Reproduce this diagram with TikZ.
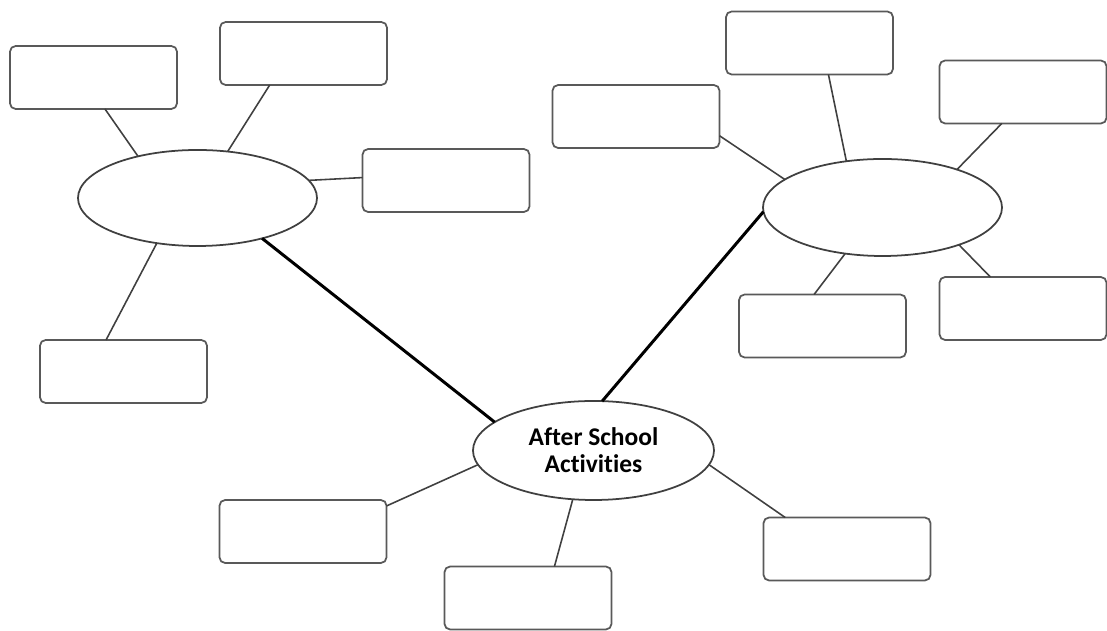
\documentclass[tikz,border=0pt]{standalone}
\usepackage{fontspec}
\setsansfont{Carlito}[Ligatures=NoCommon]
\usetikzlibrary{shapes.geometric}

\begin{document}
\begin{tikzpicture}[thick,
                    leaf box/.style={rectangle,rounded corners=3.2pt,draw=black!65,line width=1pt,
                                     minimum width=3.34cm,minimum height=1.26cm,outer sep=0pt},
                    hub/.style={ellipse,draw=black!75,line width=1pt,inner sep=0pt,outer sep=0pt,
                                align=center,font=\sffamily\bfseries\fontsize{14.5}{15.5}\selectfont},
                    spoke/.style={draw=black!75,line width=0.9pt},
                    trunk/.style={draw=black,line width=1.7pt}]

  \useasboundingbox (0,0) rectangle (22.14,12.62);

  % hubs
  \node[hub,minimum width=4.78cm,minimum height=1.92cm] (L) at (3.95,8.66) {};
  \node[hub,minimum width=4.78cm,minimum height=1.94cm] (R) at (17.65,8.47) {};
  \node[hub,minimum width=4.82cm,minimum height=1.98cm] (C) at (11.87,3.61) {After School\\Activities};

  % empty boxes
  \node[leaf box] (L1) at (1.87,11.07) {};
  \node[leaf box] (L2) at (6.07,11.55) {};
  \node[leaf box] (L3) at (8.92,9.01) {};
  \node[leaf box] (L4) at (2.47,5.19) {};

  \node[leaf box] (R1) at (12.72,10.29) {};
  \node[leaf box] (R2) at (16.19,11.76) {};
  \node[leaf box] (R3) at (20.46,10.78) {};
  \node[leaf box] (R4) at (20.46,6.45) {};
  \node[leaf box] (R5) at (16.45,6.10) {};

  \node[leaf box] (C1) at (6.06,1.99) {};
  \node[leaf box] (C2) at (10.56,0.66) {};
  \node[leaf box] (C3) at (16.94,1.64) {};

  \path[spoke]
    (L.145) edge (L1.-70)
    (L.57)  edge (L2.-137)
    (L.9)   edge (L3.178)
    (L.228) edge (L4.119)
    (R.164) edge (R1.-13)
    (R.128) edge (R2.-59)
    (R.27)  edge (R3.-124)
    (R.334) edge (R4.136)
    (R.231) edge (R5.105)
    (C.187) edge (C1.17)
    (C.247) edge (C2.50)
    (C.353) edge (C3.153);

  \path[trunk]
    (L.328) edge (C.164.5)
    (R.182) edge (C.80);
\end{tikzpicture}
\end{document}
